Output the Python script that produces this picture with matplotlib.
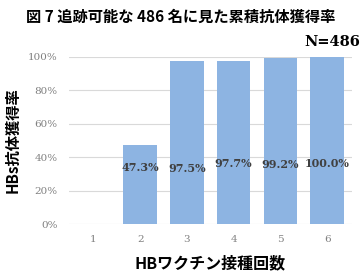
import matplotlib.pyplot as plt

plt.rcParams['font.family'] = ['Noto Sans CJK JP', 'DejaVu Sans']

doses = [1, 2, 3, 4, 5, 6]
rates = [0, 47.3, 97.5, 97.7, 99.2, 100.0]
labels = ['', '47.3%', '97.5%', '97.7%', '99.2%', '100.0%']
label_y = [0, 34, 33, 36, 35.5, 36]

fig = plt.figure(figsize=(3.61, 2.79), dpi=100)
ax = fig.add_axes([0.19, 0.197, 0.785, 0.599])

ax.bar(doses, rates, width=0.72, color='#8DB4E2', zorder=2)
for x, y, t in zip(doses, label_y, labels):
    if t:
        ax.text(x, y, t, ha='center', va='center', fontsize=8, fontweight='bold',
                family='DejaVu Serif', color='#404040', zorder=3)

ax.set_xlim(0.47, 6.53)
ax.set_ylim(0, 100)
ax.set_yticks(range(0, 101, 20))
ax.set_yticklabels([f'{v}%' for v in range(0, 101, 20)])
ax.set_xticks(doses)
ax.grid(axis='y', color='#D9D9D9', linewidth=0.8, zorder=0)
for s in ax.spines.values():
    s.set_visible(False)
ax.tick_params(length=0, labelsize=7.5, labelcolor='#808080', pad=8)
for lb in ax.get_xticklabels() + ax.get_yticklabels():
    lb.set_family('DejaVu Serif')

ax.set_xlabel('HBワクチン接種回数', fontsize=11.5, fontweight='bold', labelpad=8)
ax.set_ylabel('HBs抗体獲得率', fontsize=11, fontweight='bold', labelpad=5)

fig.text(0.5, 0.938, '図 7 追跡可能な 486 名に見た累積抗体獲得率', ha='center', va='center',
         fontsize=11, fontweight='bold')
fig.text(0.997, 0.848, 'N=486', ha='right', va='center', fontsize=10.5, fontweight='bold',
         family='DejaVu Serif')

fig.savefig('out.png', dpi=100)
